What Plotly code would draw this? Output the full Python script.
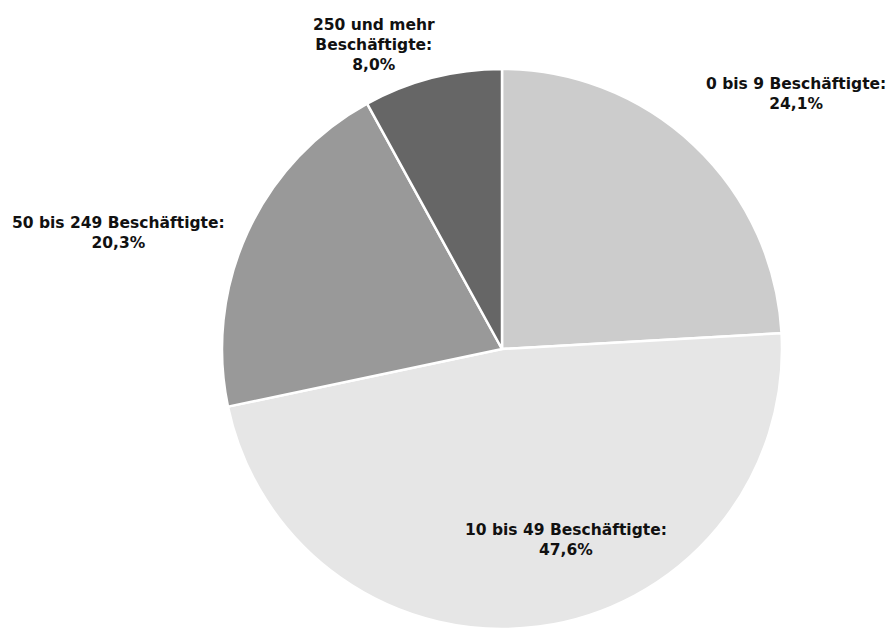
import plotly.graph_objects as go

categories = ["0 bis 9 Beschäftigte", "10 bis 49 Beschäftigte",
              "50 bis 249 Beschäftigte", "250 und mehr Beschäftigte"]
label_lines = ["0 bis 9 Beschäftigte:", "10 bis 49 Beschäftigte:",
               "50 bis 249 Beschäftigte:", "250 und mehr<br>Beschäftigte:"]
values = [24.1, 47.6, 20.3, 8.0]
colors = ["#cccccc", "#e6e6e6", "#999999", "#666666"]

W, H = 892, 629
cx, cy, r = 502, 349, 280

fig = go.Figure(go.Pie(
    labels=categories, values=values, sort=False, direction="clockwise",
    rotation=0, marker=dict(colors=colors, line=dict(color="white", width=2.5)),
    textinfo="none", hoverinfo="skip", showlegend=False,
    domain=dict(x=[(cx - r) / W, (cx + r) / W],
                y=[max(0, (H - cy - r) / H), min(1, (H - cy + r) / H)]),
))

# label anchor positions (pixels from top-left)
label_pos = [(796, 94), (566, 540), (118, 233), (374, 45)]
for txt, v, (px, py) in zip(label_lines, values, label_pos):
    fig.add_annotation(
        x=px / W, y=1 - py / H, xref="paper", yref="paper",
        text="<b>" + txt + "<br>" + f"{v:.1f}".replace(".", ",") + "%</b>",
        showarrow=False, xanchor="center", yanchor="middle", align="center",
        font=dict(family="DejaVu Sans", size=15.5, color="#111111"),
    )

fig.update_layout(width=W, height=H, margin=dict(l=0, r=0, t=0, b=0),
                  paper_bgcolor="white", plot_bgcolor="white")
fig.write_html("out.html", config={"displayModeBar": False},
               post_script="document.body.style.margin='0px';document.body.style.overflow='hidden';")
